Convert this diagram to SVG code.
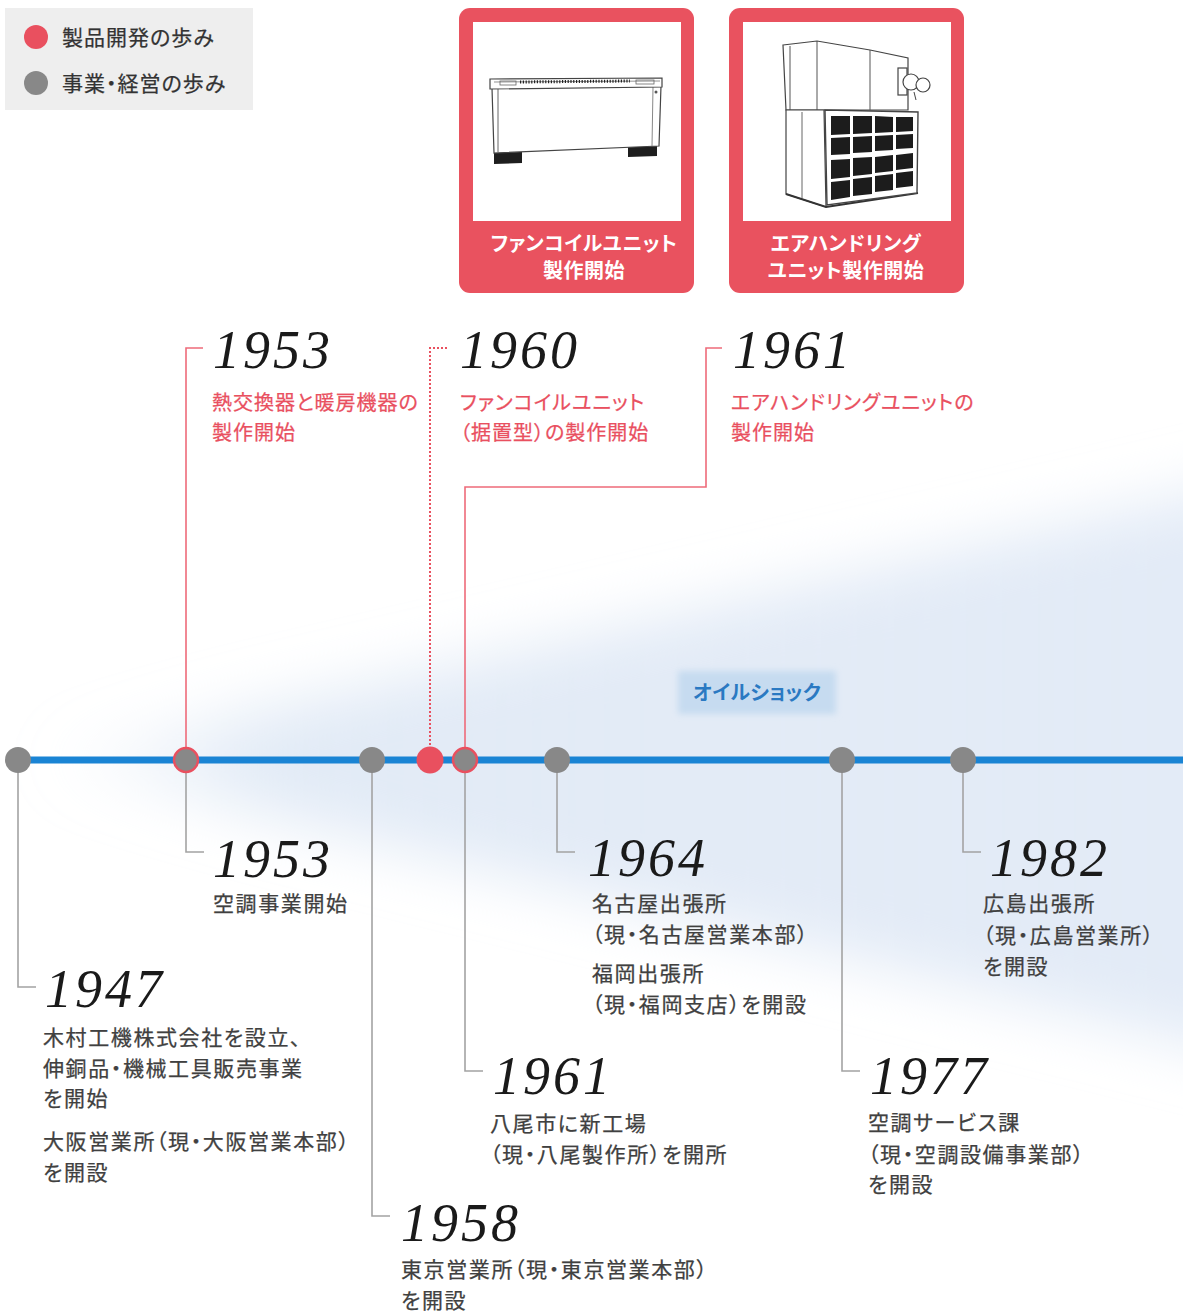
<svg xmlns="http://www.w3.org/2000/svg" width="1183" height="1313" viewBox="0 0 1183 1313">
  <style>
    .yr { font-family: "Liberation Serif", "DejaVu Serif", serif; font-style: italic; font-size: 54px; fill: #1a1a1a; letter-spacing: 3px; }
    .ja { font-family: "Noto Sans CJK JP", "Noto Sans", sans-serif; font-feature-settings: "palt" 1; }
    .gt { font-size: 21px; fill: #404040; letter-spacing: 1.6px; stroke: #404040; stroke-width: 0.25; }
    .rt { font-size: 20px; fill: #e9505f; letter-spacing: 1px; stroke: #e9505f; stroke-width: 0.25; }
    .wt { font-size: 20px; fill: #fff; font-weight: bold; letter-spacing: 0.5px; }
    .lg { font-size: 21px; fill: #333; letter-spacing: 1px; stroke: #333; stroke-width: 0.25; }
    .conn-r { stroke: #ee6b7a; stroke-width: 1.6; fill: none; }
    .conn-dot { stroke: #e9505f; stroke-width: 2; stroke-dasharray: 2 2; fill: none; }
    .conn-g { stroke: #a3a3a3; stroke-width: 1.6; fill: none; }
    .dot-g { fill: #888; }
    .dot-gr { fill: #888; stroke: #e9505f; stroke-width: 2.5; }
    .dot-r { fill: #e9505f; }
    .card { fill: #e9525f; }
    .ln { stroke: #444; stroke-width: 1.2; fill: #fff; }
  </style>
  <defs>
    <linearGradient id="hazeGrad" gradientUnits="userSpaceOnUse" x1="30" y1="0" x2="1183" y2="0">
      <stop offset="0" stop-color="#dbe6f4" stop-opacity="0"/>
      <stop offset="0.2" stop-color="#dbe6f4" stop-opacity="0.8"/>
      <stop offset="1" stop-color="#e0e9f6" stop-opacity="0.9"/>
    </linearGradient>
    <filter id="soft" filterUnits="userSpaceOnUse" x="-100" y="300" width="1450" height="900">
      <feGaussianBlur stdDeviation="30"/>
    </filter>
    <filter id="softEdge" x="-20%" y="-40%" width="140%" height="180%">
      <feGaussianBlur stdDeviation="3"/>
    </filter>
  </defs>

  <rect width="1183" height="1313" fill="#fff"/>

  <!-- background haze fanning out from the start of the timeline -->
  <polygon points="40,760 1300,470 1300,1070" fill="url(#hazeGrad)" filter="url(#soft)"/>

  <!-- legend -->
  <g id="legend">
    <rect x="5" y="8" width="248" height="102" fill="#eeeeee"/>
    <circle cx="36" cy="37" r="12" class="dot-r"/>
    <text x="62" y="45" class="ja lg">製品開発の歩み</text>
    <circle cx="36" cy="83" r="12" class="dot-g"/>
    <text x="62" y="91" class="ja lg">事業・経営の歩み</text>
  </g>

  <!-- product card: fan coil unit -->
  <g id="card-fancoil">
    <rect x="459" y="8" width="235" height="285" rx="11" class="card"/>
    <rect x="473" y="22" width="208" height="199" fill="#fff"/>
    <!-- unit drawing -->
    <polygon points="494,152 522,151 522,163 494,164" fill="#1e1e1e"/>
    <polygon points="628,147 657,146 657,156 628,157" fill="#1e1e1e"/>
    <path d="M492,88 L661,86 L659,146 L494,153 Z" class="ln"/>
    <path d="M498,89 L498,152" stroke="#666" stroke-width="1"/>
    <path d="M653,87 L652,146" stroke="#888" stroke-width="1"/>
    <path d="M490,79 L662,78 L662,87 L490,89 Z" class="ln"/>
    <path d="M494,82 L660,81" stroke="#777" stroke-width="0.8"/>
    <path d="M520,82 L630,81" stroke="#222" stroke-width="3" stroke-dasharray="1.2 1.6"/>
    <rect x="500" y="81" width="16" height="4" fill="none" stroke="#666" stroke-width="0.8"/>
    <rect x="636" y="80" width="18" height="4" fill="none" stroke="#666" stroke-width="0.8"/>
    <circle cx="656" cy="92" r="1.5" fill="#555"/>
    <text x="584" y="251" text-anchor="middle" class="ja wt">ファンコイルユニット</text>
    <text x="584" y="278" text-anchor="middle" class="ja wt">製作開始</text>
  </g>

  <!-- product card: air handling unit -->
  <g id="card-ahu">
    <rect x="729" y="8" width="235" height="285" rx="11" class="card"/>
    <rect x="743" y="22" width="208" height="199" fill="#fff"/>
    <!-- upper casing -->
    <path d="M783,45 L817,41 L870,50 L908,58 L908,110 L786,110 Z" class="ln"/>
    <path d="M817,41 L817,110 M870,50 L870,110 M790,46 L790,110" stroke="#555" stroke-width="1" fill="none"/>
    <!-- lower left casing -->
    <path d="M786,110 L824,110 L826,207 L786,194 Z" class="ln"/>
    <path d="M802,112 L802,198" stroke="#666" stroke-width="1"/>
    <path d="M786,194 L826,207 L918,193" stroke="#333" stroke-width="2" fill="none"/>
    <!-- front grille panel -->
    <path d="M825,110 L918,112 L917,193 L827,205 Z" fill="#fff" stroke="#444" stroke-width="1.4"/>
    <g fill="#1c1c1c">
      <polygon points="831,116 850,116 850,134 831,135"/>
      <polygon points="853,116 872,116 872,133 853,134"/>
      <polygon points="875,116 893,117 893,132 875,133"/>
      <polygon points="896,117 913,117 913,131 896,132"/>
      <polygon points="831,138 850,137 850,154 831,155"/>
      <polygon points="853,137 872,136 872,152 853,153"/>
      <polygon points="875,136 893,135 893,150 875,151"/>
      <polygon points="896,135 913,134 913,148 896,149"/>
      <polygon points="831,160 850,159 850,177 831,179"/>
      <polygon points="853,158 872,157 872,174 853,176"/>
      <polygon points="875,157 893,155 893,171 875,173"/>
      <polygon points="896,155 913,153 913,168 896,170"/>
      <polygon points="831,182 850,180 850,197 831,200"/>
      <polygon points="853,179 872,177 872,194 853,196"/>
      <polygon points="875,176 893,174 893,190 875,192"/>
      <polygon points="896,173 913,171 913,186 896,188"/>
    </g>
    <!-- fan motor -->
    <rect x="898" y="68" width="9" height="27" class="ln"/>
    <circle cx="911" cy="82" r="8" class="ln"/>
    <circle cx="923" cy="85" r="7" class="ln"/>
    <path d="M914,92 L916,100" stroke="#444" stroke-width="1"/>
    <text x="846" y="251" text-anchor="middle" class="ja wt">エアハンドリング</text>
    <text x="846" y="278" text-anchor="middle" class="ja wt">ユニット製作開始</text>
  </g>

  <!-- oil shock band label -->
  <g id="oilshock">
    <rect x="678" y="671" width="158" height="43" fill="#c6dbf0" filter="url(#softEdge)"/>
    <text x="757" y="700" text-anchor="middle" class="ja" font-size="20" font-weight="bold" fill="#2a79c2" letter-spacing="0.3">オイルショック</text>
  </g>

  <!-- connectors -->
  <g id="connectors">
    <!-- product development (upper) -->
    <path d="M203,348 L186,348 L186,748" class="conn-r"/>
    <path d="M447,348 L430,348 L430,748" class="conn-dot"/>
    <path d="M722,348 L706,348 L706,487 L465,487 L465,748" class="conn-r"/>
    <!-- business (lower) -->
    <path d="M18,772 L18,987 L36,987" class="conn-g"/>
    <path d="M186,772 L186,852 L204,852" class="conn-g"/>
    <path d="M372,772 L372,1216 L390,1216" class="conn-g"/>
    <path d="M465,772 L465,1071 L483,1071" class="conn-g"/>
    <path d="M557,772 L557,852 L575,852" class="conn-g"/>
    <path d="M842,772 L842,1071 L860,1071" class="conn-g"/>
    <path d="M963,772 L963,852 L981,852" class="conn-g"/>
    <!-- main timeline -->
    <line x1="18" y1="760" x2="1183" y2="760" stroke="#1a84d4" stroke-width="7"/>
  </g>

  <!-- timeline points -->
  <g id="dot-1947"><circle cx="18" cy="760" r="13" class="dot-g"/></g>
  <g id="dot-1953"><circle cx="186" cy="760" r="12" class="dot-gr"/></g>
  <g id="dot-1958"><circle cx="372" cy="760" r="13" class="dot-g"/></g>
  <g id="dot-1960"><circle cx="430" cy="760" r="13.5" class="dot-r"/></g>
  <g id="dot-1961"><circle cx="465" cy="760" r="12" class="dot-gr"/></g>
  <g id="dot-1964"><circle cx="557" cy="760" r="13" class="dot-g"/></g>
  <g id="dot-1977"><circle cx="842" cy="760" r="13" class="dot-g"/></g>
  <g id="dot-1982"><circle cx="963" cy="760" r="13" class="dot-g"/></g>

  <!-- product development events -->
  <g id="ev-1953-product">
    <text x="213" y="368" class="yr">1953</text>
    <text x="212" y="410" class="ja rt">熱交換器と暖房機器の</text>
    <text x="212" y="440" class="ja rt">製作開始</text>
  </g>
  <g id="ev-1960-product">
    <text x="460" y="368" class="yr">1960</text>
    <text x="460" y="410" class="ja rt">ファンコイルユニット</text>
    <text x="460" y="440" class="ja rt">（据置型）の製作開始</text>
  </g>
  <g id="ev-1961-product">
    <text x="733" y="368" class="yr">1961</text>
    <text x="731" y="410" class="ja rt">エアハンドリングユニットの</text>
    <text x="731" y="440" class="ja rt">製作開始</text>
  </g>

  <!-- business events -->
  <g id="ev-1953-business">
    <text x="213" y="877" class="yr">1953</text>
    <text x="213" y="911" class="ja gt">空調事業開始</text>
  </g>
  <g id="ev-1947">
    <text x="45" y="1007" class="yr">1947</text>
    <text x="43" y="1045" class="ja gt">木村工機株式会社を設立、</text>
    <text x="43" y="1076" class="ja gt">伸銅品・機械工具販売事業</text>
    <text x="43" y="1106" class="ja gt">を開始</text>
    <text x="43" y="1149" class="ja gt">大阪営業所（現・大阪営業本部）</text>
    <text x="43" y="1180" class="ja gt">を開設</text>
  </g>
  <g id="ev-1958">
    <text x="401" y="1241" class="yr">1958</text>
    <text x="401" y="1277" class="ja gt">東京営業所（現・東京営業本部）</text>
    <text x="401" y="1308" class="ja gt">を開設</text>
  </g>
  <g id="ev-1961-business">
    <text x="493" y="1094" class="yr">1961</text>
    <text x="490" y="1131" class="ja gt">八尾市に新工場</text>
    <text x="490" y="1162" class="ja gt">（現・八尾製作所）を開所</text>
  </g>
  <g id="ev-1964">
    <text x="588" y="876" class="yr">1964</text>
    <text x="592" y="911" class="ja gt">名古屋出張所</text>
    <text x="592" y="942" class="ja gt">（現・名古屋営業本部）</text>
    <text x="592" y="981" class="ja gt">福岡出張所</text>
    <text x="592" y="1012" class="ja gt">（現・福岡支店）を開設</text>
  </g>
  <g id="ev-1977">
    <text x="870" y="1094" class="yr">1977</text>
    <text x="868" y="1130" class="ja gt">空調サービス課</text>
    <text x="868" y="1162" class="ja gt">（現・空調設備事業部）</text>
    <text x="868" y="1192" class="ja gt">を開設</text>
  </g>
  <g id="ev-1982">
    <text x="990" y="876" class="yr">1982</text>
    <text x="983" y="911" class="ja gt">広島出張所</text>
    <text x="983" y="943" class="ja gt">（現・広島営業所）</text>
    <text x="983" y="974" class="ja gt">を開設</text>
  </g>
</svg>
